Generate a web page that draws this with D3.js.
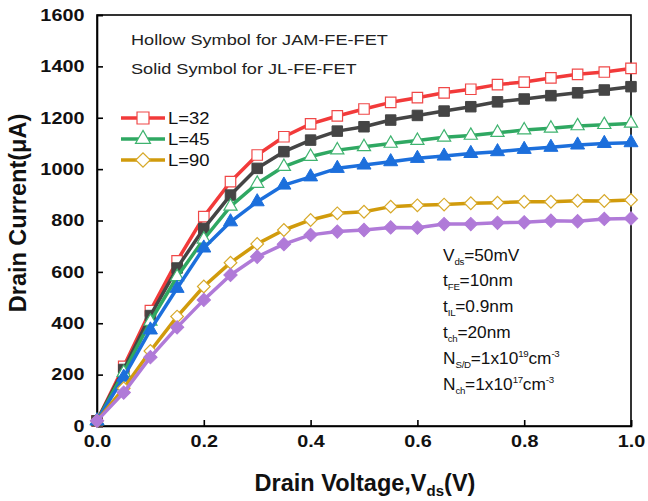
<!DOCTYPE html>
<html><head><meta charset="utf-8">
<script src="https://cdn.jsdelivr.net/npm/d3@7"></script>
<style>body{margin:0;background:#fff;} text{font-family:"Liberation Sans",Arial,sans-serif;}</style>
</head><body><svg id="c" width="648" height="501"></svg>
<script>
const voltages = [0,0.05,0.1,0.15,0.2,0.25,0.3,0.35,0.4,0.45,0.5,0.55,0.6,0.65,0.7,0.75,0.8,0.85,0.9,0.95,1.0];
const jamL32 = [20,232,449,643,815,951,1055,1126,1176,1207,1234,1260,1278,1297,1311,1329,1339,1355,1369,1378,1392];
const jlL32  = [20,220,430,615,769,899,1003,1068,1113,1148,1165,1191,1209,1226,1243,1262,1273,1286,1297,1308,1321];
const jamL45 = [20,208,407,581,727,855,944,1010,1049,1074,1087,1100,1111,1124,1131,1142,1152,1159,1168,1173,1178];
const jlL45  = [20,190,374,536,693,795,873,938,970,1003,1016,1029,1042,1051,1061,1068,1077,1085,1094,1100,1103];
const jamL90 = [20,147,292,426,543,636,709,763,802,828,834,854,859,862,867,869,873,873,877,876,880];
const jlL90  = [20,130,268,384,491,588,659,708,744,757,763,773,772,786,786,791,793,799,797,806,808];
const xTicks = [0,0.2,0.4,0.6,0.8,1.0];
const yTicks = [0,200,400,600,800,1000,1200,1400,1600];
const legendLabels = ["L=32","L=45","L=90"];

const series = [
  {vals: jamL32, line:"#f23a3a", mk:"#f04848", sym:d3.symbolSquare, size:110, rot:0, hollow:true},
  {vals: jlL32,  line:"#454545", mk:"#454545", sym:d3.symbolSquare, size:110, rot:0, hollow:false},
  {vals: jamL45, line:"#2fa862", mk:"#3fb36f", sym:d3.symbolTriangle, size:75, rot:0, hollow:true},
  {vals: jlL45,  line:"#1c6fdc", mk:"#1c6fdc", sym:d3.symbolTriangle, size:85, rot:0, hollow:false},
  {vals: jamL90, line:"#d19b0c", mk:"#d7a92a", sym:d3.symbolSquare, size:80, rot:45, hollow:true},
  {vals: jlL90,  line:"#b07ad8", mk:"#b07ad8", sym:d3.symbolSquare, size:90, rot:45, hollow:false}
];

const svg = d3.select("#c");
const L=97,R=631,T=15,B=426;
const x = d3.scaleLinear().domain([0,1]).range([L,R]);
const y = d3.scaleLinear().domain([0,1600]).range([B,T]);

svg.append("rect").attr("x",L).attr("y",T).attr("width",R-L).attr("height",B-T)
  .attr("fill","none").attr("stroke","#000").attr("stroke-width",1.6);

const xa = svg.append("g").attr("transform",`translate(0,${B})`)
  .call(d3.axisBottom(x).tickValues(xTicks).tickFormat(d3.format(".1f")).tickSize(-6).tickPadding(9));
const ya = svg.append("g").attr("transform",`translate(${L},0)`)
  .call(d3.axisLeft(y).tickValues(yTicks).tickFormat(d3.format("d")).tickSize(-6).tickPadding(10.5));
[xa,ya].forEach(a=>{
  a.select(".domain").attr("stroke","#000").attr("stroke-width",1.6);
  a.selectAll(".tick line").attr("stroke","#000").attr("stroke-width",1.6);
  a.selectAll(".tick text").attr("font-size",16.5).attr("font-weight","bold")
    .attr("font-family","'Liberation Sans',Arial,sans-serif").attr("fill","#111")
    .attr("transform","scale(1.2,1)");
});

const line = d3.line().x((d,i)=>x(voltages[i])).y(d=>y(d));
series.forEach(s=>{
  svg.append("path").attr("d",line(s.vals)).attr("fill","none")
    .attr("stroke",s.line).attr("stroke-width",3.5).attr("stroke-linejoin","round");
  svg.append("g").selectAll("path").data(s.vals).join("path")
    .attr("transform",(d,i)=>`translate(${x(voltages[i])},${y(d)}) rotate(${s.rot})`)
    .attr("d",d3.symbol().type(s.sym).size(s.size)())
    .attr("fill",s.hollow?"#fff":s.mk)
    .attr("stroke",s.mk).attr("stroke-width",s.hollow?1.2:1);
});

function stext(xp,yp,size,sx){
  return svg.append("g").attr("transform",`translate(${xp},${yp}) scale(${sx},1)`)
    .append("text").attr("font-size",size).attr("fill","#111");
}

stext(131,44.5,15.5,1.17).attr("fill","#222").text("Hollow Symbol for JAM-FE-FET");
stext(131,74,15.5,1.17).attr("fill","#222").text("Solid Symbol for JL-FE-FET");

const legSeries=[series[0],series[2],series[4]];
legSeries.forEach((s,i)=>{
  const ly=118+i*21;
  svg.append("line").attr("x1",121).attr("x2",165).attr("y1",ly).attr("y2",ly)
    .attr("stroke",s.line).attr("stroke-width",3.5);
  svg.append("path").attr("transform",`translate(143,${ly}) rotate(${s.rot})`)
    .attr("d",d3.symbol().type(s.sym).size(s.size*1.3)())
    .attr("fill","#fff").attr("stroke",s.mk).attr("stroke-width",1.2);
  stext(168,ly+6,16,1.15).text(legendLabels[i]);
});

const ann = [
  [["V",""],["ds","sub"],["=50mV",""]],
  [["t",""],["FE","sub"],["=10nm",""]],
  [["t",""],["IL","sub"],["=0.9nm",""]],
  [["t",""],["ch","sub"],["=20nm",""]],
  [["N",""],["S/D","sub"],["=1x10",""],["19","sup"],["cm",""],["-3","sup"]],
  [["N",""],["ch","sub"],["=1x10",""],["17","sup"],["cm",""],["-3","sup"]]
];
ann.forEach((parts,i)=>{
  const t = stext(443,260.5+i*25.8,16,1.08);
  let prev="";
  parts.forEach(([s,k])=>{
    const sp=t.append("tspan").text(s);
    let dy=0;
    if(k==="sub"){sp.attr("font-size",9).attr("letter-spacing",-0.3); dy = (prev==="sup"?7:0)+4;}
    else if(k==="sup"){sp.attr("font-size",9).attr("letter-spacing",-0.3); dy = (prev==="sub"?-4:0)-7;}
    else { dy = prev==="sub"?-4:(prev==="sup"?7:0); }
    if(dy) sp.attr("dy",dy);
    prev=k;
  });
});

const xt = svg.append("text").attr("x",365).attr("y",491).attr("text-anchor","middle")
  .attr("font-size",23.5).attr("font-weight","bold").attr("fill","#111");
xt.append("tspan").text("Drain Voltage,V");
xt.append("tspan").text("ds").attr("font-size",15).attr("dy",4.5);
xt.append("tspan").text("(V)").attr("dy",-4.5);

svg.append("text").attr("transform","translate(26,213) rotate(-90)").attr("text-anchor","middle")
  .attr("font-size",23.5).attr("font-weight","bold").attr("fill","#111").text("Drain Current(μA)");
</script></body></html>
